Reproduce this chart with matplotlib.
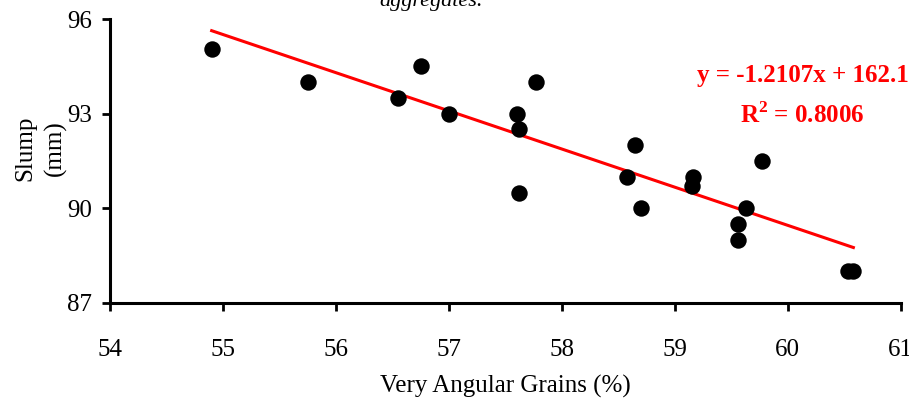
import matplotlib
matplotlib.use("Agg")
import matplotlib.pyplot as plt
import numpy as np

plt.rcParams['font.family'] = ['Liberation Serif', 'DejaVu Serif']
plt.rcParams['mathtext.fontset'] = 'custom'
plt.rcParams['mathtext.rm'] = 'Liberation Serif'
plt.rcParams['mathtext.bf'] = 'Liberation Serif:bold'

angular = [54.9, 55.75, 56.75, 56.55, 57.0, 57.6, 57.62, 57.62, 57.77, 58.58, 58.65, 58.7,
           59.16, 59.15, 59.63, 59.56, 59.56, 59.77, 60.53, 60.58]
slump = [95.05, 94.0, 94.5, 93.5, 93.0, 93.0, 92.5, 90.5, 94.0, 91.0, 92.0, 90.0,
         91.0, 90.7, 90.0, 89.5, 89.0, 91.5, 88.0, 88.0]
slope = -1.2107
intercept = 162.1
r2 = 0.8006
x_ticks = [54, 55, 56, 57, 58, 59, 60, 61]
y_ticks = [87, 90, 93, 96]

fig = plt.figure(figsize=(9.09, 3.98), dpi=100)
ax = fig.add_axes([0.121, 0.239, 0.870, 0.713])

ax.scatter(angular, slump, s=140, color='black', zorder=3, linewidths=0)
xl = np.array([min(angular), max(angular)])
ax.plot(xl, slope * xl + intercept, color='#ff0000', lw=2.2, zorder=2)

ax.set_xlim(54, 61)
ax.set_ylim(87, 96)
ax.set_xticks(x_ticks)
ax.set_yticks(y_ticks)
for s in ['top', 'right']:
    ax.spines[s].set_visible(False)
for s in ['left', 'bottom']:
    ax.spines[s].set_linewidth(2.2)
    ax.spines[s].set_color('black')
ax.tick_params(axis='both', direction='out', length=6, width=2, labelsize=18, colors='black')
ax.tick_params(axis='x', pad=20)
ax.tick_params(axis='y', pad=7)

ax.set_xlabel('Very Angular Grains (%)', fontsize=18, labelpad=10)
fig.text(0.028, 0.628, 'Slump', rotation=90, fontsize=18, ha='center', va='center')
fig.text(0.061, 0.628, '(mm)', rotation=90, fontsize=18, ha='center', va='center')

ax.text(1.01, 0.80, f'y = {slope:.4f}x + {intercept:.1f}', transform=ax.transAxes,
        color='#ff0000', fontsize=18, fontweight='bold', ha='right', va='center')
ax.text(0.875, 0.66, f'R$^{{\\mathbf{{2}}}}$ = {r2:.4f}', transform=ax.transAxes,
        color='#ff0000', fontsize=18, fontweight='bold', ha='center', va='center')

fig.text(0.474, 0.995, 'aggregates.', fontsize=16, style='italic', ha='center', va='center')

fig.savefig('out.png', dpi=100)
